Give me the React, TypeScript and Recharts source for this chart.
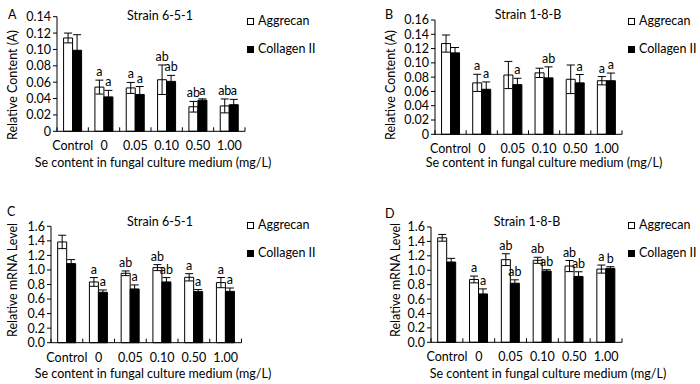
import { BarChart, Bar, XAxis, YAxis, ErrorBar, LabelList } from 'recharts';

const FONT = 'Lato, "Noto Sans", sans-serif';

const doses = ['Control', '0', '0.05', '0.10', '0.50', '1.00'];

// A: Strain 6-5-1, relative content
const aggA = [0.114, 0.054, 0.053, 0.063, 0.030, 0.031];
const aggErrA = [0.006, 0.0085, 0.0067, 0.018, 0.0065, 0.0085];
const colA = [0.099, 0.042, 0.045, 0.061, 0.038, 0.0325];
const colErrA = [0.019, 0.008, 0.0097, 0.0073, 0.0016, 0.0065];
const aggLetA = ['', 'a', 'a', 'ab', 'ab', 'ab'];
const colLetA = ['', 'a', 'a', 'ab', 'a', 'a'];

// B: Strain 1-8-B, relative content
const aggB = [0.127, 0.072, 0.083, 0.086, 0.077, 0.075];
const aggErrB = [0.012, 0.012, 0.019, 0.0065, 0.02, 0.0058];
const colB = [0.114, 0.063, 0.0695, 0.079, 0.072, 0.075];
const colErrB = [0.0075, 0.0103, 0.0089, 0.0154, 0.0117, 0.0107];
const aggLetB = ['', 'a', '', '', '', 'a'];
const colLetB = ['', 'a', 'a', 'ab', 'a', 'a'];

// C: Strain 6-5-1, mRNA
const aggC = [1.385, 0.835, 0.954, 1.032, 0.899, 0.826];
const aggErrC = [0.092, 0.06, 0.032, 0.041, 0.05, 0.07];
const colC = [1.087, 0.693, 0.739, 0.835, 0.702, 0.706];
const colErrC = [0.055, 0.032, 0.055, 0.06, 0.028, 0.046];
const aggLetC = ['', 'a', 'ab', 'ab', 'a', 'a'];
const colLetC = ['', 'a', 'a', 'ab', 'a', 'a'];

// D: Strain 1-8-B, mRNA
const aggD = [1.45, 0.872, 1.147, 1.138, 1.058, 1.016];
const aggErrD = [0.047, 0.047, 0.082, 0.042, 0.077, 0.056];
const colD = [1.114, 0.671, 0.82, 0.988, 0.914, 1.026];
const colErrD = [0.051, 0.07, 0.047, 0.019, 0.065, 0.023];
const aggLetD = ['', 'a', 'ab', 'ab', 'ab', 'a'];
const colLetD = ['', 'a', 'ab', 'ab', 'ab', 'b'];

const ticksContent = [0, 0.02, 0.04, 0.06, 0.08, 0.1, 0.12, 0.14];
const ticksContentB = [0, 0.02, 0.04, 0.06, 0.08, 0.1, 0.12, 0.14, 0.16];
const ticksMrna = [0, 0.2, 0.4, 0.6, 0.8, 1.0, 1.2, 1.4, 1.6];

const fmtContent = (v: number) => (v === 0 ? '0' : v.toFixed(2));
const fmtMrna = (v: number) => v.toFixed(1);

function XTick(props: any) {
  const { x, y, payload } = props;
  const off = payload.offset ?? 15.5;
  const last = payload.value === doses[doses.length - 1];
  // category boundary marks point up into the plot, Excel style
  return (
    <g>
      <line x1={x - off} x2={x - off} y1={y - 14} y2={y - 10} stroke="#000" />
      {last && <line x1={x + off} x2={x + off} y1={y - 14} y2={y - 10} stroke="#000" />}
      <text x={x} y={y} dy="0.71em" textAnchor="middle" fontSize={12.5} fontFamily={FONT} fill="#000">
        {payload.value}
      </text>
    </g>
  );
}

function letterLabel(vals: number[], errs: number[]) {
  return (props: any) => {
    const vb = props.viewBox || props;
    const i = props.index ?? 0;
    if (!props.value) return null;
    const errPx = (errs[i] / vals[i]) * vb.height;
    return (
      <text x={vb.x + vb.width / 2} y={vb.y - errPx - 4} textAnchor="middle" fontSize={12.5} fontFamily={FONT} fill="#000">
        {props.value}
      </text>
    );
  };
}

type PanelProps = {
  left: number; top: number;
  plot: { l: number; r: number; t: number; b: number };
  agg: number[]; aggErr: number[]; col: number[]; colErr: number[];
  aggLet: string[]; colLet: string[];
  ticks: number[]; fmt: (v: number) => string;
  letter: string; title: string; yLabel: string;
  letterPos: [number, number]; titlePos: [number, number];
  yLabelPos: [number, number]; xTitlePos: [number, number];
  legendPos: [number, number, number];
};

function Panel(p: PanelProps) {
  const rows = doses.map((d, i) => ({
    dose: d,
    agg: p.agg[i], aggErr: p.aggErr[i], aggLet: p.aggLet[i],
    col: p.col[i], colErr: p.colErr[i], colLet: p.colLet[i],
  }));
  const txt: React.CSSProperties = { position: 'absolute', fontFamily: FONT, fontSize: 12.5, color: '#000', whiteSpace: 'nowrap', lineHeight: '16px' };
  return (
    <div style={{ position: 'absolute', left: p.left, top: p.top, width: 350, height: 192 }}>
      <BarChart
        width={350}
        height={192}
        data={rows}
        barGap={0}
        barCategoryGap="21%"
        margin={{ left: 0, top: p.plot.t, right: 350 - p.plot.r, bottom: 192 - p.plot.b - 30 }}
      >
        <XAxis dataKey="dose" height={30} tickLine={false} tickSize={5} tickMargin={5} stroke="#000" tick={<XTick />} interval={0} />
        <YAxis
          width={p.plot.l}
          domain={[0, p.ticks[p.ticks.length - 1]]}
          ticks={p.ticks}
          tickFormatter={p.fmt}
          tickSize={4}
          tickMargin={2}
          stroke="#000"
          tick={{ fill: '#000', fontSize: 12.5, fontFamily: FONT }}
          interval={0}
        />
        <Bar dataKey="agg" fill="#fff" stroke="#000" strokeWidth={1} isAnimationActive={false}>
          <ErrorBar dataKey="aggErr" width={4} stroke="#000" strokeWidth={1} direction="y" isAnimationActive={false} />
          <LabelList dataKey="aggLet" content={letterLabel(p.agg, p.aggErr)} />
        </Bar>
        <Bar dataKey="col" fill="#000" stroke="#000" strokeWidth={1} isAnimationActive={false}>
          <ErrorBar dataKey="colErr" width={4} stroke="#000" strokeWidth={1} direction="y" isAnimationActive={false} />
          <LabelList dataKey="colLet" content={letterLabel(p.col, p.colErr)} />
        </Bar>
      </BarChart>
      <div style={{ ...txt, left: p.letterPos[0], top: p.letterPos[1] - 8 }}>{p.letter}</div>
      <div style={{ ...txt, left: p.titlePos[0], top: p.titlePos[1] - 8, transform: 'translateX(-50%)' }}>{p.title}</div>
      <div style={{ ...txt, left: p.yLabelPos[0], top: p.yLabelPos[1], transform: 'translate(-50%, -50%) rotate(-90deg)' }}>{p.yLabel}</div>
      <div style={{ ...txt, left: p.xTitlePos[0], top: p.xTitlePos[1] - 8, transform: 'translateX(-50%)' }}>
        Se content in fungal culture medium (mg/L)
      </div>
      <div style={{ position: 'absolute', left: p.legendPos[0], top: p.legendPos[1] - 3, width: 5, height: 5, border: '1px solid #000', background: '#fff' }} />
      <div style={{ ...txt, left: p.legendPos[0] + 11, top: p.legendPos[1] - 8 }}>Aggrecan</div>
      <div style={{ position: 'absolute', left: p.legendPos[0], top: p.legendPos[2] - 3, width: 7, height: 7, background: '#000' }} />
      <div style={{ ...txt, left: p.legendPos[0] + 11, top: p.legendPos[2] - 8 }}>Collagen II</div>
    </div>
  );
}

export default function App() {
  return (
    <div style={{ position: 'absolute', left: 0, top: 0, width: 700, height: 384, background: '#fff', overflow: 'hidden' }}>
      <Panel
        left={0} top={0}
        plot={{ l: 57, r: 245, t: 16.7, b: 131.3 }}
        agg={aggA} aggErr={aggErrA} col={colA} colErr={colErrA} aggLet={aggLetA} colLet={colLetA}
        ticks={ticksContent} fmt={fmtContent}
        letter="A" title="Strain 6-5-1" yLabel="Relative Content (A)"
        letterPos={[8, 15]} titlePos={[160, 16]} yLabelPos={[13, 85]} xTitlePos={[153, 163]}
        legendPos={[247, 21, 49]}
      />
      <Panel
        left={350} top={0}
        plot={{ l: 85, r: 272, t: 20, b: 134.3 }}
        agg={aggB} aggErr={aggErrB} col={colB} colErr={colErrB} aggLet={aggLetB} colLet={colLetB}
        ticks={ticksContentB} fmt={fmtContent}
        letter="B" title="Strain 1-8-B" yLabel="Relative Content (A)"
        letterPos={[35, 15]} titlePos={[178, 15]} yLabelPos={[41, 85]} xTitlePos={[194, 163]}
        legendPos={[278, 21, 49]}
      />
      <Panel
        left={0} top={192}
        plot={{ l: 51, r: 241.5, t: 34.3, b: 150.7 }}
        agg={aggC} aggErr={aggErrC} col={colC} colErr={colErrC} aggLet={aggLetC} colLet={colLetC}
        ticks={ticksMrna} fmt={fmtMrna}
        letter="C" title="Strain 6-5-1" yLabel="Relative mRNA Level"
        letterPos={[7, 20]} titlePos={[160, 30]} yLabelPos={[13, 88]} xTitlePos={[153, 182]}
        legendPos={[247, 33, 61]}
      />
      <Panel
        left={350} top={192}
        plot={{ l: 81, r: 272, t: 35, b: 150.3 }}
        agg={aggD} aggErr={aggErrD} col={colD} colErr={colErrD} aggLet={aggLetD} colLet={colLetD}
        ticks={ticksMrna} fmt={fmtMrna}
        letter="D" title="Strain 1-8-B" yLabel="Relative mRNA Level"
        letterPos={[35, 22]} titlePos={[177, 30]} yLabelPos={[46, 88]} xTitlePos={[198, 182]}
        legendPos={[278, 33, 61]}
      />
    </div>
  );
}
